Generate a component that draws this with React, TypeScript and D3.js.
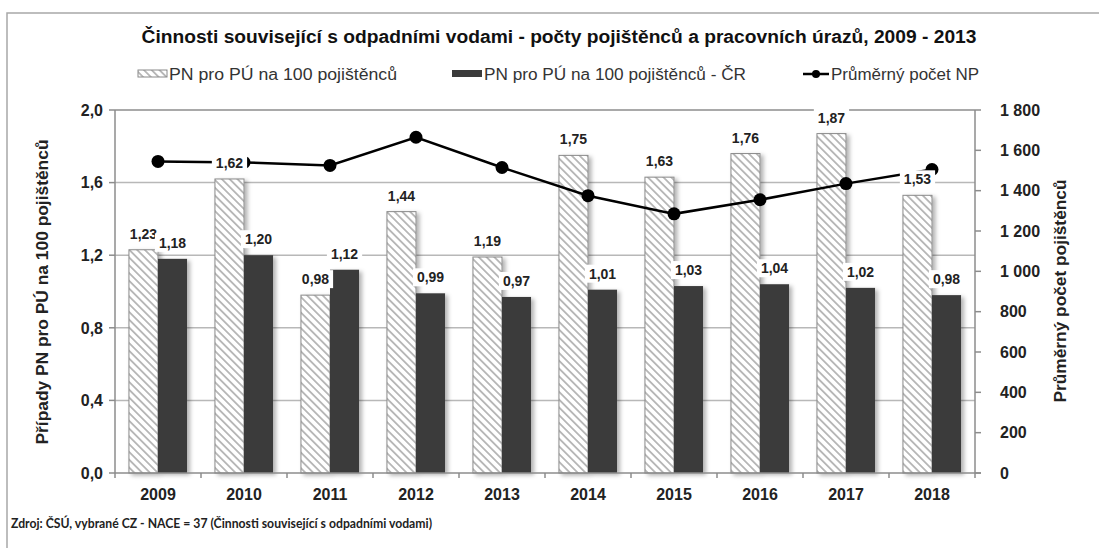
import React, { useEffect, useRef } from 'react';
import * as d3 from 'd3';

// chart data
const years = ['2009', '2010', '2011', '2012', '2013', '2014', '2015', '2016', '2017', '2018'];
const pnRates = [1.23, 1.62, 0.98, 1.44, 1.19, 1.75, 1.63, 1.76, 1.87, 1.53];
const pnRatesCR = [1.18, 1.2, 1.12, 0.99, 0.97, 1.01, 1.03, 1.04, 1.02, 0.98];
const avgInsured = [1545, 1540, 1525, 1665, 1515, 1375, 1285, 1355, 1435, 1505];
const leftTicks = [0, 0.4, 0.8, 1.2, 1.6, 2.0];
const rightTicks = [0, 200, 400, 600, 800, 1000, 1200, 1400, 1600, 1800];

const chartTitle =
  'Činnosti související s odpadními vodami - počty pojištěnců a pracovních úrazů, 2009 - 2013';
const legendLabels = ['PN pro PÚ na 100 pojištěnců', 'PN pro PÚ na 100 pojištěnců - ČR', 'Průměrný počet NP'];
const leftAxisTitle = 'Případy PN pro PÚ na 100 pojištěnců';
const rightAxisTitle = 'Průměrný počet pojištěnců';
const sourceNote = 'Zdroj: ČSÚ, vybrané CZ - NACE = 37 (Činnosti související s odpadními vodami)';

const czLocale = d3.formatLocale({ decimal: ',', thousands: ' ', grouping: [3], currency: ['', ' Kč'] });
const fmtLeft = czLocale.format('.1f');
const fmtRight = czLocale.format(',d');
const fmtLabel = czLocale.format('.2f');

const FONT = '"Liberation Sans", Arial, sans-serif';

const Chart = () => {
  const svgRef = useRef<SVGSVGElement>(null);

  useEffect(() => {
    const svg = d3.select(svgRef.current);
    svg.selectAll('*').remove();

    const W = 1099;
    const H = 548;
    const plot = { left: 115, right: 975, top: 110, bottom: 473 };

    svg.attr('width', W).attr('height', H).style('font-family', FONT);

    // defs: hatch + shadow
    const defs = svg.append('defs');
    const pat = defs
      .append('pattern')
      .attr('id', 'hatch')
      .attr('patternUnits', 'userSpaceOnUse')
      .attr('width', 5.5)
      .attr('height', 5.5)
      .attr('patternTransform', 'rotate(-45)');
    pat.append('rect').attr('width', 5.5).attr('height', 5.5).attr('fill', '#fff');
    pat
      .append('line')
      .attr('x1', 2.75)
      .attr('y1', 0)
      .attr('x2', 2.75)
      .attr('y2', 5.5)
      .attr('stroke', '#9a9a9a')
      .attr('stroke-width', 1.3);

    const shadow = defs
      .append('filter')
      .attr('id', 'shadow')
      .attr('x', '-20%')
      .attr('y', '-10%')
      .attr('width', '160%')
      .attr('height', '130%');
    shadow
      .append('feDropShadow')
      .attr('dx', 3)
      .attr('dy', 2)
      .attr('stdDeviation', 2)
      .attr('flood-color', '#000')
      .attr('flood-opacity', 0.3);

    // background + frame
    svg.append('rect').attr('width', W).attr('height', H).attr('fill', '#fff');
    svg
      .append('rect')
      .attr('x', 7)
      .attr('y', 13)
      .attr('width', W)
      .attr('height', H)
      .attr('fill', 'none')
      .attr('stroke', '#a8a8a8')
      .attr('stroke-width', 1.5);

    // scales
    const x = d3.scaleBand().domain(years).range([plot.left, plot.right]);
    const xInner = d3.scaleBand().domain(['pn', 'cr']).range([0, x.bandwidth()]).paddingOuter(0.48);
    const yL = d3.scaleLinear().domain([0, 2]).range([plot.bottom, plot.top]);
    const yR = d3.scaleLinear().domain([0, 1800]).range([plot.bottom, plot.top]);

    const g = svg.append('g');

    // gridlines
    g.selectAll('.grid')
      .data(leftTicks.filter((d) => d > 0 && d < 2))
      .enter()
      .append('line')
      .attr('x1', plot.left)
      .attr('x2', plot.right)
      .attr('y1', (d) => yL(d))
      .attr('y2', (d) => yL(d))
      .attr('stroke', '#b8b8b8')
      .attr('stroke-width', 1.5);

    // frame lines of the plot
    const axisColor = '#8c8c8c';
    g.append('line')
      .attr('x1', plot.left)
      .attr('x2', plot.right)
      .attr('y1', yL(2))
      .attr('y2', yL(2))
      .attr('stroke', axisColor)
      .attr('stroke-width', 1.5);
    g.append('line')
      .attr('x1', plot.left)
      .attr('x2', plot.left)
      .attr('y1', plot.top)
      .attr('y2', plot.bottom)
      .attr('stroke', axisColor)
      .attr('stroke-width', 1.5);
    g.append('line')
      .attr('x1', plot.right)
      .attr('x2', plot.right)
      .attr('y1', plot.top)
      .attr('y2', plot.bottom)
      .attr('stroke', axisColor)
      .attr('stroke-width', 1.5);

    // bars
    const rows = years.map((year, i) => ({ year, pn: pnRates[i], cr: pnRatesCR[i], avg: avgInsured[i] }));

    g.selectAll('.bar-pn')
      .data(rows)
      .enter()
      .append('rect')
      .attr('x', (d) => x(d.year)! + xInner('pn')!)
      .attr('y', (d) => yL(d.pn))
      .attr('width', xInner.bandwidth())
      .attr('height', (d) => plot.bottom - yL(d.pn))
      .attr('fill', 'url(#hatch)')
      .attr('stroke', '#8a8a8a')
      .attr('stroke-width', 1)
      .attr('filter', 'url(#shadow)');

    g.selectAll('.bar-cr')
      .data(rows)
      .enter()
      .append('rect')
      .attr('x', (d) => x(d.year)! + xInner('cr')!)
      .attr('y', (d) => yL(d.cr))
      .attr('width', xInner.bandwidth())
      .attr('height', (d) => plot.bottom - yL(d.cr))
      .attr('fill', '#3b3b3b')
      .attr('filter', 'url(#shadow)');

    // bottom axis line + ticks
    g.append('line')
      .attr('x1', plot.left)
      .attr('x2', plot.right + 6)
      .attr('y1', plot.bottom)
      .attr('y2', plot.bottom)
      .attr('stroke', axisColor)
      .attr('stroke-width', 1.5);
    const bounds = years.map((y) => x(y)!).concat([plot.right]);
    g.selectAll('.xtick')
      .data(bounds)
      .enter()
      .append('line')
      .attr('x1', (d) => d)
      .attr('x2', (d) => d)
      .attr('y1', plot.bottom)
      .attr('y2', plot.bottom + 5)
      .attr('stroke', axisColor)
      .attr('stroke-width', 1.5);

    // left ticks
    g.selectAll('.ltick')
      .data(leftTicks)
      .enter()
      .append('line')
      .attr('x1', plot.left - 6)
      .attr('x2', plot.left)
      .attr('y1', (d) => yL(d))
      .attr('y2', (d) => yL(d))
      .attr('stroke', axisColor)
      .attr('stroke-width', 1.5);
    g.selectAll('.ltext')
      .data(leftTicks)
      .enter()
      .append('text')
      .attr('x', plot.left - 12)
      .attr('y', (d) => yL(d))
      .attr('dy', '0.36em')
      .attr('text-anchor', 'end')
      .attr('font-size', 16)
      .attr('font-weight', 'bold')
      .attr('fill', '#222')
      .text((d) => fmtLeft(d));

    // right ticks
    g.selectAll('.rtick')
      .data(rightTicks)
      .enter()
      .append('line')
      .attr('x1', plot.right)
      .attr('x2', plot.right + 6)
      .attr('y1', (d) => yR(d))
      .attr('y2', (d) => yR(d))
      .attr('stroke', axisColor)
      .attr('stroke-width', 1.5);
    g.selectAll('.rtext')
      .data(rightTicks)
      .enter()
      .append('text')
      .attr('x', plot.right + 25)
      .attr('y', (d) => yR(d))
      .attr('dy', '0.36em')
      .attr('text-anchor', 'start')
      .attr('font-size', 16)
      .attr('font-weight', 'bold')
      .attr('fill', '#222')
      .text((d) => fmtRight(d));

    // x labels
    g.selectAll('.xtext')
      .data(years)
      .enter()
      .append('text')
      .attr('x', (d) => x(d)! + x.bandwidth() / 2)
      .attr('y', 500)
      .attr('text-anchor', 'middle')
      .attr('font-size', 16)
      .attr('font-weight', 'bold')
      .attr('fill', '#222')
      .text((d) => d);

    // line series
    const cx = (d: { year: string }) => x(d.year)! + x.bandwidth() / 2;
    const line = d3
      .line<{ year: string; avg: number }>()
      .x(cx)
      .y((d) => yR(d.avg));
    g.append('path')
      .datum(rows)
      .attr('d', line)
      .attr('fill', 'none')
      .attr('stroke', '#000')
      .attr('stroke-width', 2.5);
    g.selectAll('.pt')
      .data(rows)
      .enter()
      .append('circle')
      .attr('cx', cx)
      .attr('cy', (d) => yR(d.avg))
      .attr('r', 6.5)
      .attr('fill', '#000');

    // data labels with white boxes
    const labels = [
      ...rows.map((d) => ({ x: x(d.year)! + xInner('pn')! + xInner.bandwidth() / 2, v: d.pn })),
      ...rows.map((d) => ({ x: x(d.year)! + xInner('cr')! + xInner.bandwidth() / 2, v: d.cr })),
    ];
    const lg = g.append('g');
    labels.forEach((d) => {
      const cy = yL(d.v) - 16;
      const box = lg.append('rect').attr('fill', '#fff');
      const t = lg
        .append('text')
        .attr('x', d.x)
        .attr('y', cy)
        .attr('dy', '0.36em')
        .attr('text-anchor', 'middle')
        .attr('font-size', 14)
        .attr('font-weight', 'bold')
        .attr('fill', '#222')
        .text(fmtLabel(d.v));
      const w = (t.node() as SVGTextElement).getComputedTextLength();
      box
        .attr('x', d.x - w / 2 - 4)
        .attr('y', cy - 9)
        .attr('width', w + 8)
        .attr('height', 18);
    });

    // title
    svg
      .append('text')
      .attr('x', 559)
      .attr('y', 43)
      .attr('text-anchor', 'middle')
      .attr('font-size', 17.5)
      .attr('font-weight', 'bold')
      .attr('fill', '#111')
      .attr('textLength', 835)
      .attr('lengthAdjust', 'spacingAndGlyphs')
      .text(chartTitle);

    // legend
    const leg = svg.append('g').attr('font-size', 16).attr('fill', '#333');
    leg.append('rect')
      .attr('x', 138)
      .attr('y', 70)
      .attr('width', 29)
      .attr('height', 7)
      .attr('fill', 'url(#hatch)')
      .attr('stroke', '#8a8a8a');
    leg.append('text')
      .attr('x', 169)
      .attr('y', 80)
      .attr('textLength', 228)
      .attr('lengthAdjust', 'spacingAndGlyphs')
      .text(legendLabels[0]);
    leg.append('rect')
      .attr('x', 452)
      .attr('y', 70)
      .attr('width', 30)
      .attr('height', 7)
      .attr('fill', '#3b3b3b');
    leg.append('text')
      .attr('x', 484)
      .attr('y', 80)
      .attr('textLength', 262)
      .attr('lengthAdjust', 'spacingAndGlyphs')
      .text(legendLabels[1]);
    leg.append('line')
      .attr('x1', 803)
      .attr('x2', 829)
      .attr('y1', 74)
      .attr('y2', 74)
      .attr('stroke', '#000')
      .attr('stroke-width', 2.5);
    leg.append('circle').attr('cx', 816).attr('cy', 74).attr('r', 4).attr('fill', '#000');
    leg.append('text')
      .attr('x', 831)
      .attr('y', 80)
      .attr('textLength', 148)
      .attr('lengthAdjust', 'spacingAndGlyphs')
      .text(legendLabels[2]);

    // axis titles
    svg
      .append('text')
      .attr('transform', 'translate(48,292) rotate(-90)')
      .attr('text-anchor', 'middle')
      .attr('font-size', 16)
      .attr('font-weight', 'bold')
      .attr('fill', '#222')
      .attr('textLength', 305)
      .attr('lengthAdjust', 'spacingAndGlyphs')
      .text(leftAxisTitle);
    svg
      .append('text')
      .attr('transform', 'translate(1066,291) rotate(-90)')
      .attr('text-anchor', 'middle')
      .attr('font-size', 16)
      .attr('font-weight', 'bold')
      .attr('fill', '#222')
      .attr('textLength', 223)
      .attr('lengthAdjust', 'spacingAndGlyphs')
      .text(rightAxisTitle);

    // source note
    svg
      .append('text')
      .attr('x', 11)
      .attr('y', 528)
      .attr('font-family', 'Lato, "Open Sans", sans-serif')
      .attr('font-size', 13.5)
      .attr('font-weight', 'bold')
      .attr('fill', '#222')
      .attr('textLength', 421)
      .attr('lengthAdjust', 'spacingAndGlyphs')
      .text(sourceNote);
  }, []);

  return <svg ref={svgRef} style={{ position: 'absolute', left: 0, top: 0, display: 'block' }}></svg>;
};

export default function App() {
  return <Chart />;
}
